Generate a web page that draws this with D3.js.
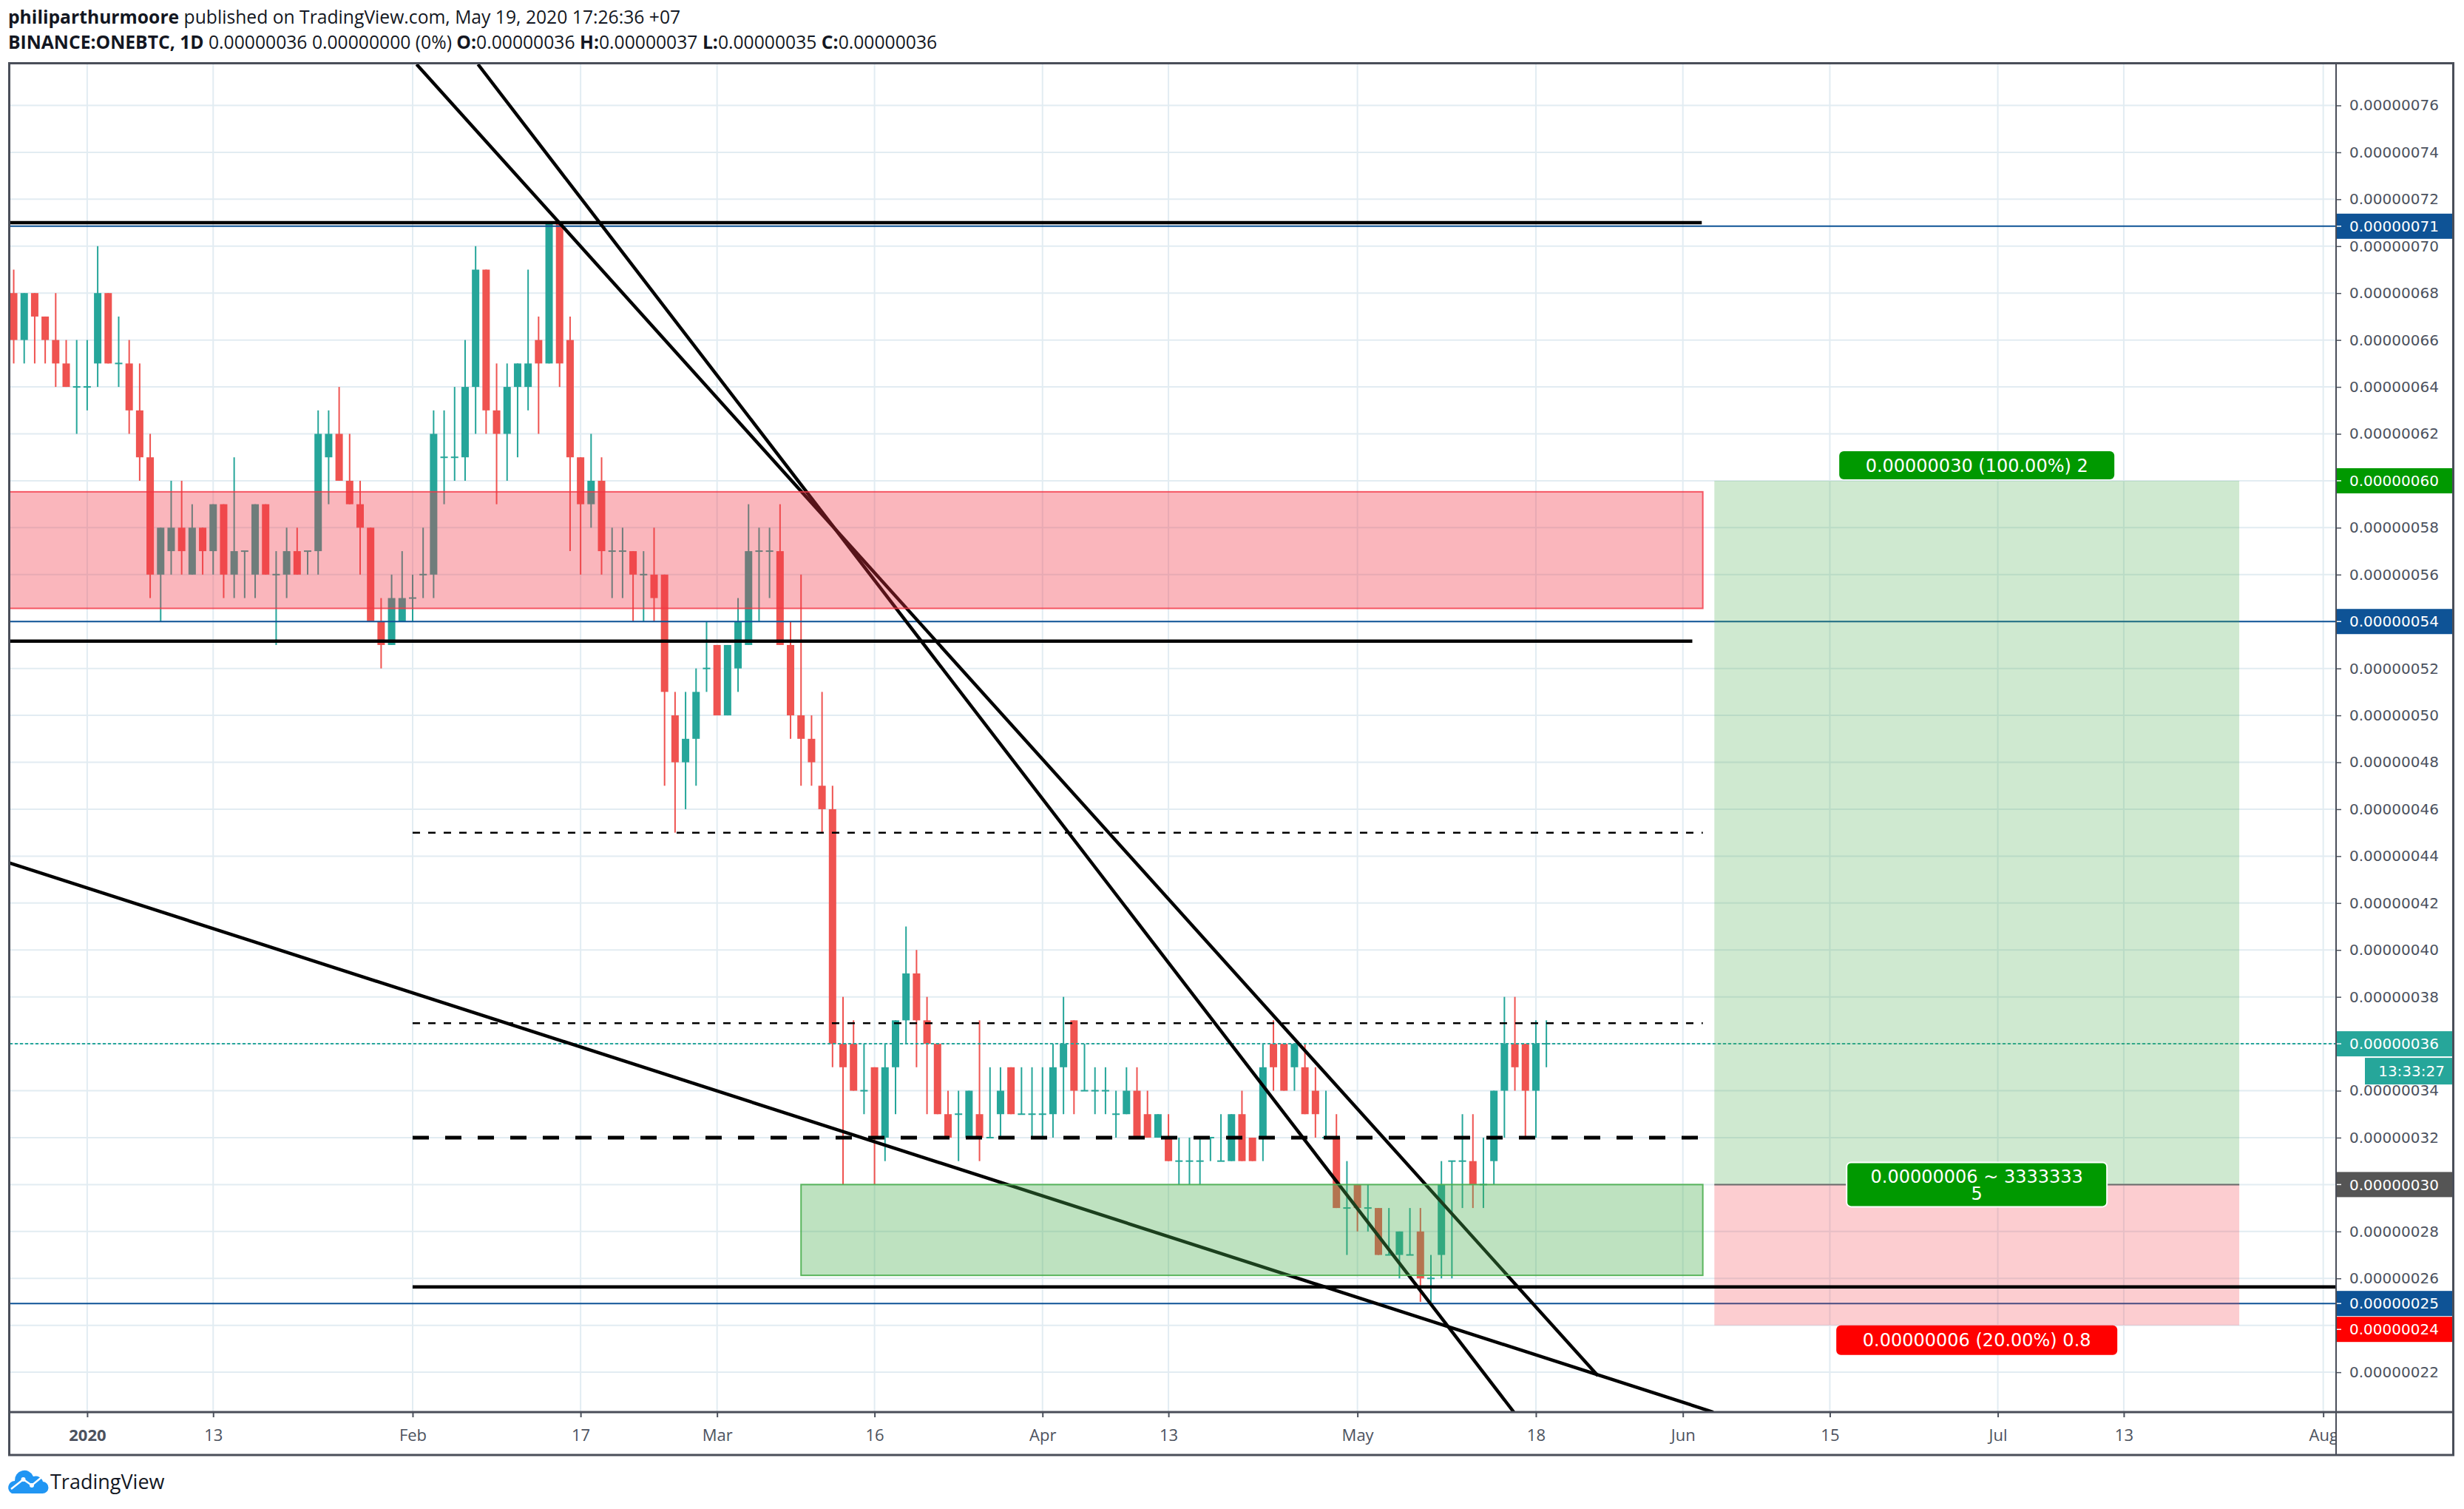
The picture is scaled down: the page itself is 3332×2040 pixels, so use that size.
<!DOCTYPE html>
<html><head><meta charset="utf-8">
<script src="https://cdn.jsdelivr.net/npm/d3@7"></script>
<style>body{margin:0;background:#fff;} svg{display:block;}</style>
</head><body>
<svg id="c" width="3332" height="2040"></svg>
<script>
// ---------- DATA (prices in satoshi units, 1 = 0.00000001 BTC) ----------
const firstCandle = "2019-12-25";
const lastCandle  = "2020-05-19";
const opens = [68,66,68,67,66,65,64,64,65,68, 65,65,63,61,56,57,58,56,58,57, 59,56,57,56,59,56,56,57,57,57,
 61,62,60,59,58,54,53,54,55,56, 56,61,61,61,64,69,63,62,64,64, 66,65,71,66,61,59,60,57,57,57,
 56,56,56,50,48,49,52,53,50,52, 53,57,57,57,53,50,49,47,46,36, 36,34,35,32,35,37,39,37,36,33,
 33,32,33,32,33,35,33,33,33,33, 35,37,34,34,34,33,33,34,33,32, 32,31,31,31,32,31,31,33,32,32,
 36,36,35,35,34,32,32,29,30,29, 29,27,27,27,28,26,27,31,31,31, 30,31,34,36,36,34,36];
const highs = [69,68,68,67,68,66,66,66,70,68, 67,66,65,62,58,60,60,59,58,59, 59,61,57,59,59,57,58,58,57,63,
 63,64,62,60,58,55,56,57,56,58, 63,63,64,66,70,69,65,65,65,69, 67,71,71,67,61,62,61,58,58,57,
 57,58,56,51,51,52,54,53,53,55, 59,58,58,59,54,56,50,51,47,38, 37,36,35,36,37,41,40,38,36,34,
 34,34,37,35,35,35,35,35,35,36, 38,37,36,35,35,34,35,35,34,33, 33,32,32,32,32,33,33,34,32,36,
 37,36,36,36,35,34,33,31,30,30, 29,29,28,29,29,27,31,31,33,33, 32,34,38,38,36,37,37];
const lows = [65,65,65,65,64,64,62,63,64,65, 64,62,60,55,54,56,56,56,56,56, 55,55,55,55,56,53,55,56,56,56,
 59,60,59,56,54,52,53,54,54,55, 55,59,60,60,62,62,59,60,61,63, 62,65,64,57,56,58,56,55,55,54,
 54,54,47,45,46,47,51,50,50,51, 53,54,55,53,49,47,47,45,35,30, 34,33,30,31,33,36,35,33,33,32,
 31,32,31,32,32,33,33,32,32,32, 33,33,34,33,33,32,33,32,32,32, 31,30,30,30,31,31,31,31,31,31,
 34,34,34,33,32,32,29,27,28,28, 27,27,26,27,25,25,26,26,29,29, 29,30,32,34,32,32,35];
const closes = [66,68,67,66,65,64,64,64,68,65, 65,63,61,56,58,58,57,58,57,59, 56,57,57,59,56,56,57,56,57,62,
 62,60,59,58,54,53,55,55,55,56, 62,61,61,64,69,63,62,64,65,65, 65,71,65,61,59,60,57,57,57,56,
 56,55,51,48,49,51,52,50,53,54, 57,57,57,53,50,49,48,46,36,35, 34,34,32,35,37,39,37,36,33,32,
 33,34,32,32,34,33,33,33,33,35, 36,34,34,34,34,33,34,32,32,33, 31,31,31,31,32,31,33,31,31,35,
 35,34,36,33,33,32,29,29,29,29, 27,27,28,27,26,26,30,31,31,30, 30,34,36,35,34,36,36];

const timeTickDates  = ["2020-01-01","2020-01-13","2020-02-01","2020-02-17","2020-03-01","2020-03-16","2020-04-01","2020-04-13","2020-05-01","2020-05-18","2020-06-01","2020-06-15","2020-07-01","2020-07-13","2020-08-01"];
const timeTickLabels = ["2020","13","Feb","17","Mar","16","Apr","13","May","18","Jun","15","Jul","13","Aug"];
const priceTicks = [22,24,26,28,30,32,34,36,38,40,42,44,46,48,50,52,54,56,58,60,62,64,66,68,70,72,74,76];

// drawings (days counted from 2020-01-01, prices in satoshi)
const hLevelPrices = [71.0, 53.16, 45, 36.88, 32, 25.64];
const hLevelStart  = [-9, -9, 31, 31, 31, 31];
const hLevelEnd    = [153.8, 152.9, 153.9, 153.9, 153.5, 260];
const priceLinePrices = [70.85, 54, 24.93];
const priceLineLabels = ["0.00000071","0.00000054","0.00000025"];
const trendA = [[31.38, 77.75],[143.9, 21.85]];
const trendB = [[37.23, 77.75],[135.9, 20.30]];
const trendC = [[-7.4, 43.71],[154.9, 20.30]];
const resistZone = {d0:-9, d1:153.9, p0:54.56, p1:59.53};
const supportZone = {d0:68, d1:153.9, p0:26.13, p1:30};
const position = {d0:155, d1:205, entry:30, target:60, stop:24};
const lastPrice = 36;

// ---------- LAYOUT ----------
const svg = d3.select("#c");
const P = {left:13, right:3159, top:87, bottom:1909};
const day0 = Date.UTC(2020,0,1);
const dayMs = 86400000;
const x = d3.scaleUtc().domain([new Date(day0), new Date(Date.UTC(2020,7,1))]).range([117.9, 117.9 + 213*14.196]);
const y = d3.scaleLinear().domain([22, 76]).range([142.5 + 54*31.715, 142.5]);
const xd = d => x(new Date(day0 + d*dayMs));
const fmt = d3.format(".8f");
const parse = s => new Date(s + "T00:00:00Z");

const dates = d3.utcDay.range(parse(firstCandle), new Date(parse(lastCandle).getTime() + dayMs));
const candles = dates.map((dt,i) => ({date:dt, o:opens[i], h:highs[i], l:lows[i], c:closes[i]}));

svg.append("rect").attr("width",3332).attr("height",2040).attr("fill","#fff");

const defs = svg.append("defs");
defs.append("clipPath").attr("id","plotClip").append("rect")
  .attr("x",P.left).attr("y",P.top).attr("width",P.right-P.left).attr("height",P.bottom-P.top);
defs.append("clipPath").attr("id","timeClip").append("rect")
  .attr("x",P.left).attr("y",P.bottom).attr("width",P.right-P.left).attr("height",60);

const plot = svg.append("g").attr("clip-path","url(#plotClip)");

// grid
plot.append("g").selectAll("line").data(priceTicks).join("line")
  .attr("x1",P.left).attr("x2",P.right).attr("y1",d=>y(d)).attr("y2",d=>y(d))
  .attr("stroke","#e2ecf2").attr("stroke-width",2);
plot.append("g").selectAll("line").data(timeTickDates).join("line")
  .attr("x1",d=>x(parse(d))).attr("x2",d=>x(parse(d))).attr("y1",P.top).attr("y2",P.bottom)
  .attr("stroke","#e2ecf2").attr("stroke-width",2);

// candles
const UP = "#26a69a", DN = "#ef5350";
const cg = plot.append("g");
cg.selectAll("line").data(candles).join("line")
  .attr("x1",d=>x(d.date)).attr("x2",d=>x(d.date))
  .attr("y1",d=>y(d.h)).attr("y2",d=>y(d.l))
  .attr("stroke",d=>d.c>=d.o?UP:DN).attr("stroke-width",2);
cg.selectAll("rect").data(candles).join("rect")
  .attr("x",d=>x(d.date)-5).attr("width",10)
  .attr("y",d=>y(Math.max(d.o,d.c)) - (d.o===d.c?1:0))
  .attr("height",d=>Math.max(2, Math.abs(y(d.o)-y(d.c))))
  .attr("fill",d=>d.c>=d.o?UP:DN);

// current price dotted line
plot.append("line").attr("x1",P.left).attr("x2",P.right).attr("y1",y(lastPrice)).attr("y2",y(lastPrice))
  .attr("stroke",UP).attr("stroke-width",2).attr("stroke-dasharray","4,3");

// blue price lines
plot.append("g").selectAll("line").data(priceLinePrices).join("line")
  .attr("x1",P.left).attr("x2",P.right).attr("y1",d=>y(d)).attr("y2",d=>y(d))
  .attr("stroke","#0e5396").attr("stroke-width",2);

// position tool
const pg = plot.append("g");
pg.append("rect").attr("x",xd(position.d0)).attr("width",xd(position.d1)-xd(position.d0))
  .attr("y",y(position.target)).attr("height",y(position.entry)-y(position.target))
  .attr("fill","rgba(76,175,80,0.27)");
pg.append("rect").attr("x",xd(position.d0)).attr("width",xd(position.d1)-xd(position.d0))
  .attr("y",y(position.entry)).attr("height",y(position.stop)-y(position.entry))
  .attr("fill","rgba(242,54,69,0.25)");
pg.append("line").attr("x1",xd(position.d0)).attr("x2",xd(position.d1))
  .attr("y1",y(position.entry)).attr("y2",y(position.entry)).attr("stroke","#6b6b6b").attr("stroke-width",2);

// horizontal levels
const hStyles = [
  {w:4.5, dash:null},{w:4.5, dash:null},{w:2.5, dash:"10,11"},{w:2.5, dash:"10,11"},{w:5, dash:"22,22"},{w:4.5, dash:null}];
plot.append("g").selectAll("line").data(hLevelPrices).join("line")
  .attr("x1",(d,i)=>xd(hLevelStart[i])).attr("x2",(d,i)=>xd(hLevelEnd[i]))
  .attr("y1",d=>y(d)).attr("y2",d=>y(d))
  .attr("stroke","#000").attr("stroke-width",(d,i)=>hStyles[i].w)
  .attr("stroke-dasharray",(d,i)=>hStyles[i].dash);

// trend lines
plot.append("g").selectAll("line").data([trendA,trendB,trendC]).join("line")
  .attr("x1",d=>xd(d[0][0])).attr("y1",d=>y(d[0][1]))
  .attr("x2",d=>xd(d[1][0])).attr("y2",d=>y(d[1][1]))
  .attr("stroke","#000").attr("stroke-width",4.5);

// zones (drawn on top with transparency)
plot.append("rect").attr("x",xd(resistZone.d0)).attr("width",xd(resistZone.d1)-xd(resistZone.d0))
  .attr("y",y(resistZone.p1)).attr("height",y(resistZone.p0)-y(resistZone.p1))
  .attr("fill","rgba(242,54,69,0.36)").attr("stroke","rgba(242,54,69,0.8)").attr("stroke-width",2);
plot.append("rect").attr("x",xd(supportZone.d0)).attr("width",xd(supportZone.d1)-xd(supportZone.d0))
  .attr("y",y(supportZone.p1)).attr("height",y(supportZone.p0)-y(supportZone.p1))
  .attr("fill","rgba(76,175,80,0.36)").attr("stroke","rgba(76,175,80,0.9)").attr("stroke-width",2);

// position labels
const pmid = (xd(position.d0)+xd(position.d1))/2;
const LF = "'DejaVu Sans', Verdana, sans-serif";
function tag(cx, top, w, h, fill, lines, stroke){
  const g = plot.append("g");
  g.append("rect").attr("x",cx-w/2).attr("y",top).attr("width",w).attr("height",h).attr("rx",6)
    .attr("fill",fill).attr("stroke",stroke||"none").attr("stroke-width",2);
  const lh = 23;
  const y0 = top + h/2 - (lines.length-1)*lh/2;
  lines.forEach((t,i)=>g.append("text").attr("x",cx).attr("y",y0+i*lh).attr("dy","0.36em")
    .attr("text-anchor","middle").attr("fill","#fff").attr("font-family",LF).attr("font-size",24).text(t));
}
const rew = position.target-position.entry, risk = position.entry-position.stop;
tag(pmid, y(position.target)-40, 372, 38, "#009900",
  [fmt(rew*1e-8)+" (100.00%) "+ (rew/position.entry*100/50).toString()]);
tag(pmid, y(position.entry)-30, 352, 60, "#009900", [fmt(risk*1e-8)+" ~ 3333333","5"], "#fff");
tag(pmid, y(position.stop), 380, 40, "#ff0000", [fmt(risk*1e-8)+" (20.00%) 0.8"]);

// ---------- AXES ----------
const AX = "#4c525e";
// price axis
const ya = svg.append("g").attr("transform",`translate(${P.right},0)`)
  .call(d3.axisRight(y).tickValues(priceTicks).tickFormat(d=>fmt(d*1e-8)).tickSize(7).tickPadding(11));
ya.select(".domain").remove();
ya.selectAll("line").attr("stroke",AX).attr("stroke-width",1.5);
ya.selectAll("text").attr("font-family",LF).attr("font-size",20).attr("fill",AX);

// price boxes
function pbox(p, label, fill, left, dyOff){
  const g = svg.append("g");
  const cy = y(p) + (dyOff||0);
  g.append("rect").attr("x",left).attr("y",cy-17).attr("width",3316-left).attr("height",34).attr("fill",fill);
  g.append("line").attr("x1",P.right).attr("x2",P.right+7).attr("y1",cy).attr("y2",cy).attr("stroke","#fff").attr("stroke-width",1.5);
  g.append("text").attr("x",P.right+18).attr("y",cy).attr("dy","0.36em").attr("font-family",LF)
    .attr("font-size",20).attr("fill","#fff").text(label);
}
priceLinePrices.forEach((p,i)=>pbox(p, priceLineLabels[i], "#0e5396", P.right, 0));
pbox(position.target, fmt(position.target*1e-8), "#009900", P.right, 0);
pbox(position.entry, fmt(position.entry*1e-8), "#555555", P.right, 0);
pbox(position.stop, fmt(position.stop*1e-8), "#ff0000", P.right, y(24.93)+35-y(position.stop));
pbox(lastPrice, fmt(lastPrice*1e-8), UP, P.right, 0);
// countdown box
svg.append("rect").attr("x",3198).attr("y",y(lastPrice)+19).attr("width",118).attr("height",36).attr("fill",UP);
svg.append("text").attr("x",3306).attr("y",y(lastPrice)+37).attr("dy","0.36em").attr("text-anchor","end")
  .attr("font-family",LF).attr("font-size",20).attr("fill","#fff").text("13:33:27");

// time axis
const xwrap = svg.append("g").attr("clip-path","url(#timeClip)");
const xa = xwrap.append("g").attr("transform",`translate(0,${P.bottom})`)
  .call(d3.axisBottom(x).tickValues(timeTickDates.map(parse)).tickFormat((d,i)=>timeTickLabels[i]).tickSize(7).tickPadding(16));
xa.select(".domain").remove();
xa.selectAll("line").attr("stroke",AX).attr("stroke-width",2);
xa.selectAll("text").attr("font-family","'Open Sans', sans-serif").attr("font-size",22).attr("fill",AX)
  .attr("font-weight",(d,i)=>i===0?"bold":"normal");

// frame
const fr = svg.append("g").attr("stroke","#4a4e59").attr("fill","none");
fr.append("rect").attr("x",P.left-0.5).attr("y",P.top-1.5).attr("width",3318-P.left).attr("height",1967-P.top+1.5).attr("stroke-width",3);
fr.append("line").attr("x1",P.left).attr("x2",3318).attr("y1",P.bottom).attr("y2",P.bottom).attr("stroke-width",3);
fr.append("line").attr("x1",P.right).attr("x2",P.right).attr("y1",P.top).attr("y2",1967).attr("stroke-width",2);

// ---------- HEADER ----------
const HF = "'Open Sans', sans-serif";
const h1 = svg.append("text").attr("x",11).attr("y",32).attr("font-family",HF).attr("font-size",24.7).attr("fill","#131722");
h1.append("tspan").attr("font-weight","bold").text("philiparthurmoore");
h1.append("tspan").text(" published on TradingView.com, May 19, 2020 17:26:36 +07");
const h2 = svg.append("text").attr("x",11).attr("y",66).attr("font-family",HF).attr("font-size",24.7).attr("fill","#131722");
const last = candles[candles.length-1];
[["BINANCE:ONEBTC, 1D",true],[" "+fmt(last.c*1e-8)+" 0.00000000 (0%) ",false],["O:",true],[fmt(last.o*1e-8)+" ",false],
 ["H:",true],[fmt(last.h*1e-8)+" ",false],["L:",true],[fmt(last.l*1e-8)+" ",false],["C:",true],[fmt(last.c*1e-8),false]]
 .forEach(([t,b])=>h2.append("tspan").attr("font-weight",b?"bold":"normal").text(t));

// ---------- LOGO ----------
const lg = svg.append("g");
lg.append("path").attr("fill","#2196f3")
  .attr("d","M16,2019 A9,9 0 0 1 20,2002 A13,13 0 0 1 45,1996 A10,10 0 0 1 58,2003 A8,8 0 0 1 57,2019 Z");
lg.append("polyline").attr("points","15,2013 31.5,2000 43,2008 60,1994").attr("fill","none").attr("stroke","#fff").attr("stroke-width",2.5);
lg.append("circle").attr("cx",31.5).attr("cy",2000).attr("r",3).attr("fill","#fff");
lg.append("circle").attr("cx",43).attr("cy",2008).attr("r",3).attr("fill","#fff");
svg.append("text").attr("x",68).attr("y",2013).attr("font-family",HF).attr("font-size",27).attr("fill","#131722").text("TradingView");
</script>
</body></html>
